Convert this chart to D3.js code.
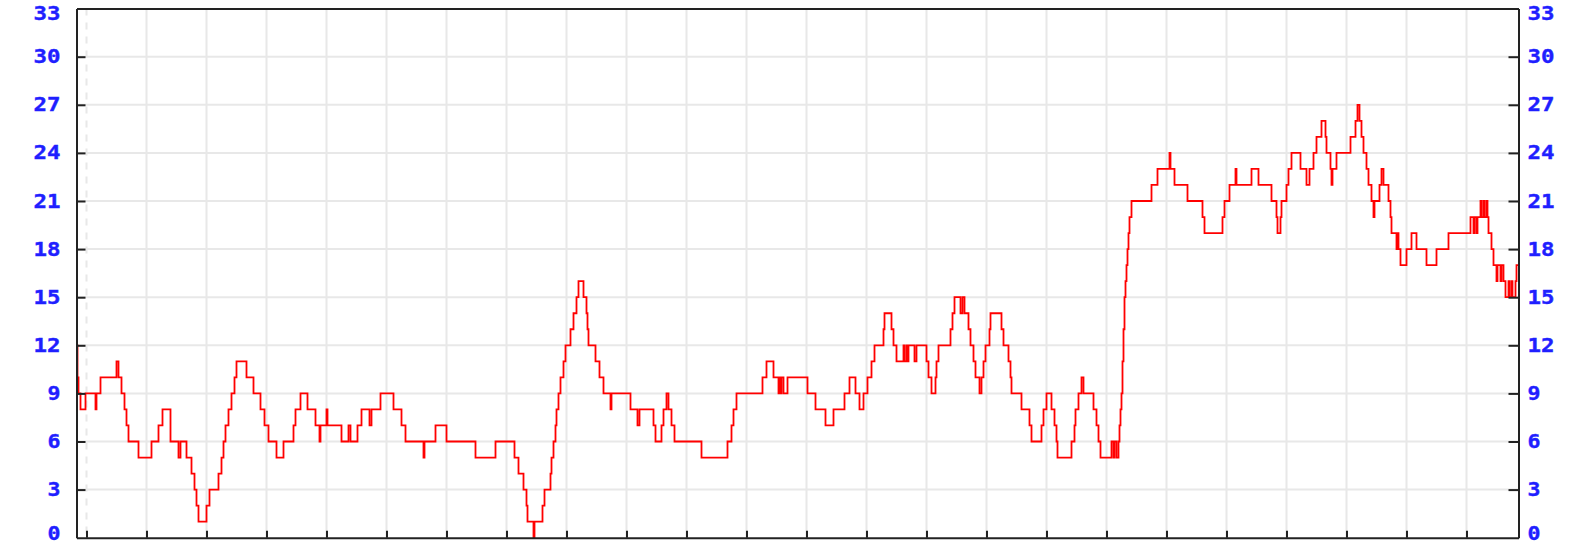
<!DOCTYPE html>
<html>
<head>
<meta charset="utf-8">
<script src="https://cdn.jsdelivr.net/npm/d3@7"></script>
<style>
  html, body { margin: 0; padding: 0; background: #ffffff; overflow: hidden; }
  svg { display: block; }
</style>
</head>
<body>
<svg id="chart" width="1593" height="546"></svg>
<script>
// ---- data (minutes from start of day, value changes) ----
const changeMinutes = [-10,-9,-8,-6,-1,9,10,14,30,32,35,38,40,42,52,65,72,76,84,92,94,100,105,108,110,112,120,123,132,135,137,139,142,145,148,150,160,167,174,178,182,190,197,207,209,214,221,229,233,234,240,241,255,262,264,271,275,283,285,294,307,315,319,337,338,349,360,389,409,428,432,437,440,441,447,448,456,458,464,465,467,469,470,472,474,477,479,484,487,490,492,497,500,501,502,509,513,517,524,525,544,551,553,567,569,575,577,580,582,585,588,615,641,645,647,650,676,680,687,692,693,694,695,697,701,721,729,739,747,758,763,769,773,777,781,785,788,797,798,805,807,810,817,818,820,821,822,828,830,840,842,845,849,850,852,864,866,868,874,876,878,882,884,887,889,893,895,897,899,903,904,915,917,922,924,925,935,943,945,955,957,960,965,968,970,971,985,988,989,992,995,997,1007,1010,1012,1014,1025,1027,1028,1030,1032,1033,1034,1035,1036,1037,1038,1039,1040,1041,1042,1043,1045,1065,1071,1083,1084,1088,1101,1116,1118,1136,1138,1143,1149,1150,1165,1172,1185,1190,1191,1194,1195,1200,1202,1205,1214,1220,1223,1227,1230,1235,1239,1240,1244,1245,1246,1250,1264,1269,1271,1273,1275,1277,1280,1282,1285,1287,1288,1293,1295,1297,1302,1304,1305,1310,1311,1312,1314,1320,1325,1330,1340,1350,1362,1384,1387,1388,1390,1391,1394,1395,1397,1398,1400,1401,1402,1405,1407,1410,1411,1414,1415,1417,1419,1422,1423,1425,1426,1429,1430,1432];
const changeValues = [12,10,9,8,9,8,9,10,11,10,9,8,7,6,5,6,7,8,6,5,6,5,4,3,2,1,2,3,4,5,6,7,8,9,10,11,10,9,8,7,6,5,6,7,8,9,8,7,6,7,8,7,6,7,6,7,8,7,8,9,8,7,6,5,6,7,6,5,6,5,4,3,2,1,0,1,2,3,4,5,6,7,8,9,10,11,12,13,14,15,16,15,14,13,12,11,10,9,8,9,8,7,8,7,6,7,8,9,8,7,6,5,6,7,8,9,10,11,10,9,10,9,10,9,10,9,8,7,8,9,10,9,8,9,10,11,12,13,14,13,12,11,12,11,12,11,12,11,12,11,10,9,10,11,12,13,14,15,14,15,14,13,12,11,10,9,10,11,12,13,14,13,12,11,10,9,8,7,6,7,8,9,8,7,6,5,6,7,8,9,10,9,8,7,6,5,6,5,6,5,6,7,8,9,11,13,15,16,17,18,19,20,21,22,23,24,23,22,21,20,19,20,21,22,23,22,23,22,21,20,19,20,21,22,23,24,23,22,23,24,25,26,25,24,23,22,23,24,25,26,27,26,25,24,23,22,21,20,21,22,23,22,21,20,19,18,19,18,17,18,19,18,17,18,19,20,19,20,19,20,21,20,21,20,21,20,19,18,17,16,17,16,17,16,15,16,15,16,15,16,17,17];
const yTicks = [0,3,6,9,12,15,18,21,24,27,30,33];
const xTickMinutes = [0,60,120,180,240,300,360,420,480,540,600,660,720,780,840,900,960,1020,1080,1140,1200,1260,1320,1380];
const xDomain = [-10, 1432];
const yDomain = [0, 33];

// ---- layout ----
const plotLeft = 76.5, plotRight = 1518.5, plotTop = 8.6, plotBottom = 537.7;
const svg = d3.select("#chart");

const x = d3.scaleLinear().domain(xDomain).range([plotLeft, plotRight]);
const y = d3.scaleLinear().domain(yDomain).range([plotBottom, plotTop]);

// grid lines
const grid = svg.append("g").attr("class", "grid");
grid.selectAll("line.h").data(yTicks.filter(v => v > 0 && v < 33)).join("line")
  .attr("class", "h")
  .attr("x1", plotLeft).attr("x2", plotRight)
  .attr("y1", d => y(d)).attr("y2", d => y(d))
  .attr("stroke", "#e8e8e8").attr("stroke-width", 2);
grid.selectAll("line.v").data(xTickMinutes).join("line")
  .attr("class", "v")
  .attr("x1", d => x(d)).attr("x2", d => x(d))
  .attr("y1", plotTop).attr("y2", plotBottom)
  .attr("stroke", "#e8e8e8").attr("stroke-width", 2)
  .attr("stroke-dasharray", d => d === 0 ? "7,7" : null);

// data line
const pts = changeMinutes.map((m, i) => [m, changeValues[i]]);
const line = d3.line().x(d => x(d[0])).y(d => y(d[1])).curve(d3.curveStepAfter);
svg.append("path").datum(pts)
  .attr("d", line)
  .attr("fill", "none")
  .attr("stroke", "#ff0000")
  .attr("stroke-width", 1.8);

// axes
const font = "'DejaVu Sans Mono', 'Liberation Mono', monospace";
function styleAxis(g) {
  g.selectAll(".domain").attr("stroke", "#222").attr("stroke-width", 2);
  g.selectAll(".tick line").attr("stroke", "#222").attr("stroke-width", 2);
  g.selectAll(".tick text")
    .attr("fill", "#1f1fff")
    .attr("font-family", font)
    .attr("font-weight", "bold")
    .attr("font-size", 19)
    .attr("stroke", "#1f1fff")
    .attr("stroke-width", 0.4)
    .attr("textLength", function() { return this.textContent.length > 1 ? 27 : 13; })
    .attr("lengthAdjust", "spacingAndGlyphs")
    .attr("dy", d => d === 0 ? "0.12em" : (d === 33 ? "0.56em" : "0.32em"));
}

const axL = svg.append("g").attr("transform", `translate(${plotLeft},0)`)
  .call(d3.axisLeft(y).tickValues(yTicks).tickSize(-9).tickSizeOuter(0).tickPadding(16).tickFormat(d3.format("d")));
styleAxis(axL);
axL.selectAll(".tick").filter(d => d === 0 || d === 33).select("line").remove();

const axR = svg.append("g").attr("transform", `translate(${plotRight},0)`)
  .call(d3.axisRight(y).tickValues(yTicks).tickSize(-10).tickSizeOuter(0).tickPadding(9).tickFormat(d3.format("d")));
styleAxis(axR);
axR.selectAll(".tick").filter(d => d === 0 || d === 33).select("line").remove();

const axB = svg.append("g").attr("transform", `translate(0,${plotBottom})`)
  .call(d3.axisBottom(x).tickValues(xTickMinutes).tickSize(-7).tickSizeOuter(0).tickFormat(""));
styleAxis(axB);

const axT = svg.append("g").attr("transform", `translate(0,${plotTop})`)
  .call(d3.axisTop(x).tickValues([]).tickSizeOuter(0));
styleAxis(axT);
</script>
</body>
</html>
